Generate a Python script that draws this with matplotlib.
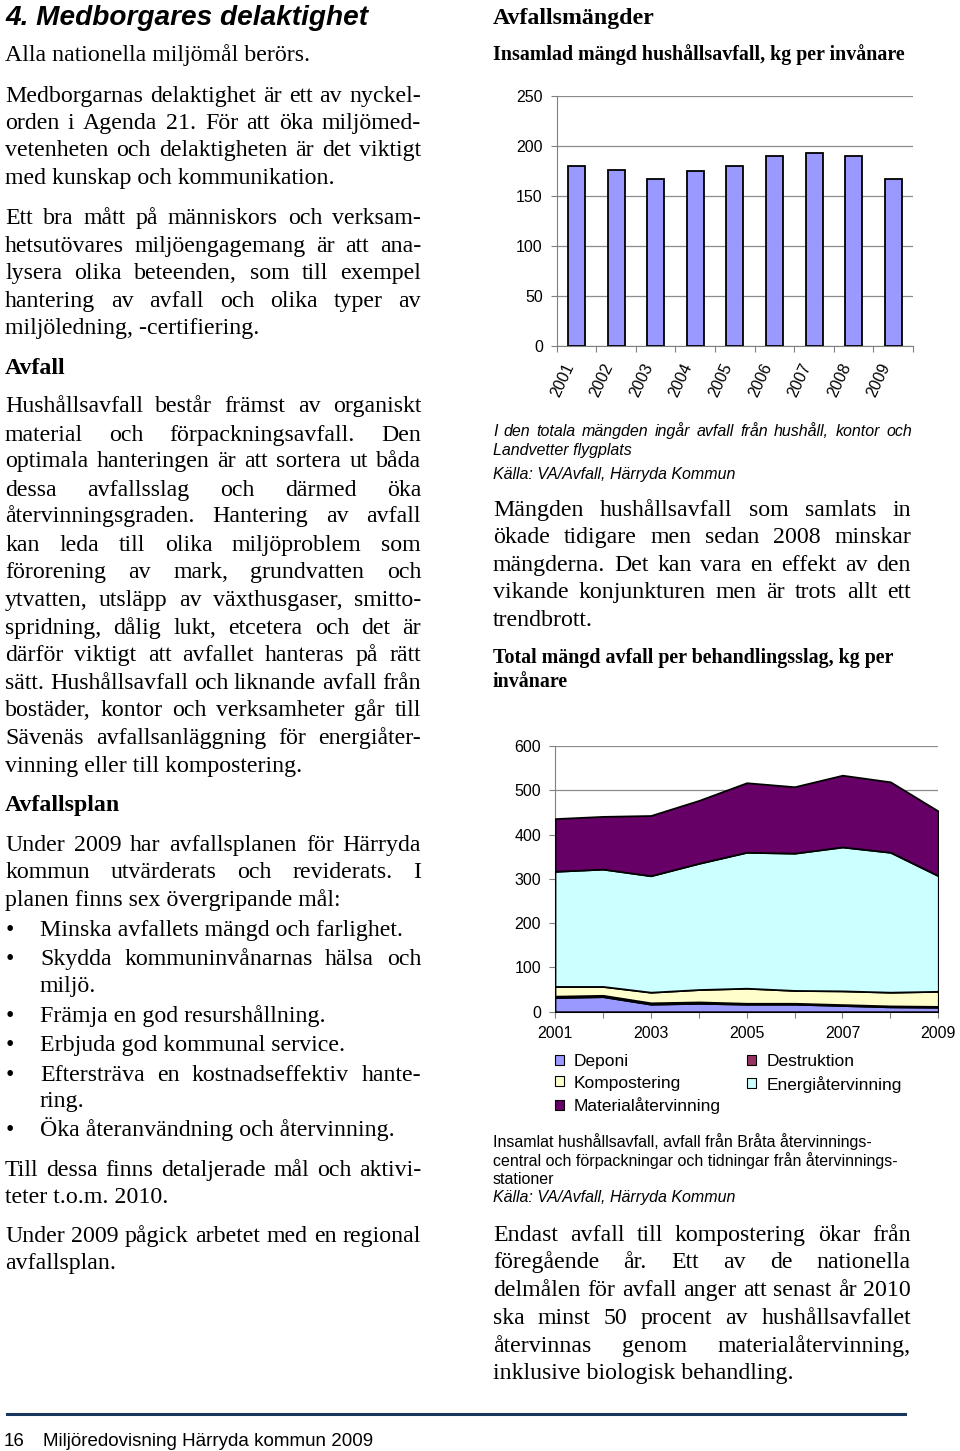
import matplotlib
matplotlib.use('Agg')
import matplotlib.pyplot as plt
from matplotlib.patches import Patch

# Data
years = [2001, 2002, 2003, 2004, 2005, 2006, 2007, 2008, 2009]
year_labels = [str(y) for y in years]
household_kg = [180, 176, 167, 175, 180, 190, 193, 190, 167]

deponi = [32, 34, 17, 19, 17, 17, 14, 11, 10]
destruktion = [3, 3, 3, 3, 2, 2, 2, 2, 2]
kompostering = [22, 20, 24, 28, 34, 29, 31, 31, 34]
energi = [260, 265, 263, 285, 307, 310, 325, 316, 261]
material = [119, 119, 136, 142, 157, 150, 162, 159, 146]

stack_names = ['Deponi', 'Destruktion', 'Kompostering', 'Energiåtervinning', 'Materialåtervinning']
stack_colors = ['#9999FF', '#993366', '#FFFFCC', '#CCFFFF', '#660066']

bar_yticks = [0, 50, 100, 150, 200, 250]
area_yticks = [0, 100, 200, 300, 400, 500, 600]
area_xticks = [2001, 2003, 2005, 2007, 2009]

SERIF = ['Liberation Serif', 'DejaVu Serif']
SANS = ['Liberation Sans', 'DejaVu Sans']

W, H = 960, 1451
fig = plt.figure(figsize=(W / 100, H / 100), dpi=100)
renderer = fig.canvas.get_renderer()


def fx(px):
    return px / W


def fy(py):
    return 1 - py / H


def put_line(x0, y, s, x1=None, size=17.2, family=SERIF, **kw):
    # y is the middle of the x-height, shift down to baseline
    yb = y + 0.24 * size * 100 / 72
    if x1 is None or ' ' not in s:
        fig.text(fx(x0), fy(yb), s, va='baseline', ha='left',
                 fontsize=size, family=family, **kw)
        return
    # justified line: spread the words over x0..x1
    words = s.split(' ')
    objs = [fig.text(0, fy(yb), w, va='baseline', ha='left',
                     fontsize=size, family=family, **kw) for w in words]
    widths = [o.get_window_extent(renderer).width for o in objs]
    gap = (x1 - x0 - sum(widths)) / (len(words) - 1)
    x = x0
    for o, w in zip(objs, widths):
        o.set_x(fx(x))
        x += w + gap


# ---- left column ----
LX0, LX1 = 5, 421
fig.text(fx(5), fy(15 + 0.36 * 20.2 * 100 / 72), '4. Medborgares delaktighet',
         fontsize=20.2, family=SANS, weight='bold', style='italic', va='baseline')

left_lines = [
    ("Alla nationella miljömål berörs.", 55, False),
    ("Medborgarnas delaktighet är ett av nyckel-", 96.7, True),
    ("orden i Agenda 21. För att öka miljömed-", 123.3, True),
    ("vetenheten och delaktigheten är det viktigt", 150.7, True),
    ("med kunskap och kommunikation.", 178.3, False),
    ("Ett bra mått på människors och verksam-", 218.3, True),
    ("hetsutövares miljöengagemang är att ana-", 246, True),
    ("lysera olika beteenden, som till exempel", 273.3, True),
    ("hantering av avfall och olika typer av", 301, True),
    ("miljöledning, -certifiering.", 328.3, False),
    ("Hushållsavfall består främst av organiskt", 406.7, True),
    ("material och förpackningsavfall. Den", 435, True),
    ("optimala hanteringen är att sortera ut båda", 461.7, True),
    ("dessa avfallsslag och därmed öka", 490, True),
    ("återvinningsgraden. Hantering av avfall", 516.7, True),
    ("kan leda till olika miljöproblem som", 545, True),
    ("förorening av mark, grundvatten och", 572.7, True),
    ("ytvatten, utsläpp av växthusgaser, smitto-", 600, True),
    ("spridning, dålig lukt, etcetera och det är", 628.3, True),
    ("därför viktigt att avfallet hanteras på rätt", 655, True),
    ("sätt. Hushållsavfall och liknande avfall från", 683.3, True),
    ("bostäder, kontor och verksamheter går till", 710, True),
    ("Sävenäs avfallsanläggning för energiåter-", 738.3, True),
    ("vinning eller till kompostering.", 766, False),
    ("Under 2009 har avfallsplanen för Härryda", 845, True),
    ("kommun utvärderats och reviderats. I", 872.7, True),
    ("planen finns sex övergripande mål:", 900, False),
    ("Till dessa finns detaljerade mål och aktivi-", 1170, True),
    ("teter t.o.m. 2010.", 1197.3, False),
    ("Under 2009 pågick arbetet med en regional", 1236.7, True),
    ("avfallsplan.", 1263.3, False),
]
for s, y, just in left_lines:
    put_line(LX0, y, s, LX1 if just else None)

put_line(LX0, 368.3, "Avfall", weight='bold')
put_line(LX0, 805, "Avfallsplan", weight='bold')

bullet_lines = [
    ("Minska avfallets mängd och farlighet.", 930, False, True),
    ("Skydda kommuninvånarnas hälsa och", 959.3, True, True),
    ("miljö.", 986.7, False, False),
    ("Främja en god resurshållning.", 1016, False, True),
    ("Erbjuda god kommunal service.", 1045, False, True),
    ("Eftersträva en kostnadseffektiv hante-", 1075, True, True),
    ("ring.", 1101.7, False, False),
    ("Öka återanvändning och återvinning.", 1130.7, False, True),
]
for s, y, just, bul in bullet_lines:
    if bul:
        put_line(6, y, "\u2022")
    put_line(40, y, s, LX1 if just else None)

# ---- right column ----
RX0, RX1 = 493, 911
put_line(RX0, 18.3, "Avfallsmängder", weight='bold')
put_line(RX0, 55, "Insamlad mängd hushållsavfall, kg per invånare", size=14.4, weight='bold')

put_line(RX0, 432.3, "I den totala mängden ingår avfall från hushåll, kontor och", 912,
         size=11.5, family=SANS, style='italic')
put_line(RX0, 450.7, "Landvetter flygplats", size=11.5, family=SANS, style='italic')
put_line(RX0, 475, "Källa: VA/Avfall, Härryda Kommun", size=11.5, family=SANS, style='italic')

right_lines = [
    ("Mängden hushållsavfall som samlats in", 510, True),
    ("ökade tidigare men sedan 2008 minskar", 537.3, True),
    ("mängderna. Det kan vara en effekt av den", 565, True),
    ("vikande konjunkturen men är trots allt ett", 592.7, True),
    ("trendbrott.", 620, False),
    ("Endast avfall till kompostering ökar från", 1235, True),
    ("föregående år. Ett av de nationella", 1262.7, True),
    ("delmålen för avfall anger att senast år 2010", 1290, True),
    ("ska minst 50 procent av hushållsavfallet", 1318.3, True),
    ("återvinnas genom materialåtervinning,", 1346, True),
    ("inklusive biologisk behandling.", 1373.3, False),
]
for s, y, just in right_lines:
    put_line(RX0, y, s, RX1 if just else None)

put_line(RX0, 658.3, "Total mängd avfall per behandlingsslag, kg per", size=14.4, weight='bold')
put_line(RX0, 681.7, "invånare", size=14.4, weight='bold')

put_line(RX0, 1143.3, "Insamlat hushållsavfall, avfall från Bråta återvinnings-", size=11.5, family=SANS)
put_line(RX0, 1161.7, "central och förpackningar och tidningar från återvinnings-", size=11.5, family=SANS)
put_line(RX0, 1180, "stationer", size=11.5, family=SANS)
put_line(RX0, 1198.3, "Källa: VA/Avfall, Härryda Kommun", size=11.5, family=SANS, style='italic')

# ---- bar chart ----
ax1 = fig.add_axes([fx(556.7), fy(345.7), (913 - 556.7) / W, 249.7 / H])
xpos = list(range(len(years)))
ax1.bar(xpos, household_kg, width=0.43, color='#9999FF', edgecolor='black', linewidth=1.3, zorder=3)
ax1.set_xlim(-0.5, len(years) - 0.5)
ax1.set_ylim(0, 250)
ax1.set_yticks(bar_yticks)
ax1.set_yticklabels([str(v) for v in bar_yticks], family=SANS, fontsize=11.5)
ax1.set_xticks([i - 0.5 for i in range(len(years) + 1)], minor=False)
ax1.set_xticklabels([])
ax1.set_xticks(xpos, minor=True)
ax1.set_xticklabels(year_labels, minor=True, rotation=65, ha='right', family=SANS, fontsize=11.5)
ax1.tick_params(axis='x', which='minor', length=0, pad=11)
ax1.tick_params(axis='x', which='major', length=4, color='#808080', direction='out')
ax1.tick_params(axis='y', length=4, color='#808080', pad=6)
ax1.grid(axis='y', color='#8c8c8c', linewidth=0.9, zorder=0)
for sp in ['top', 'right']:
    ax1.spines[sp].set_visible(False)
ax1.spines['left'].set_color('#808080')
ax1.spines['bottom'].set_color('#808080')

# ---- stacked area chart ----
ax2 = fig.add_axes([fx(555), fy(1011.7), (938.3 - 555) / W, 265.7 / H])
ax2.stackplot(years, deponi, destruktion, kompostering, energi, material,
              colors=stack_colors, labels=stack_names, edgecolor='black', linewidth=1.3, zorder=3)
ax2.set_xlim(2001, 2009)
ax2.set_ylim(0, 600)
ax2.set_yticks(area_yticks)
ax2.set_yticklabels([str(v) for v in area_yticks], family=SANS, fontsize=11.5)
ax2.set_xticks(years)
ax2.set_xticklabels([str(y) if y in area_xticks else '' for y in years], family=SANS, fontsize=11.5)
ax2.tick_params(axis='x', length=4, color='#808080', pad=6)
ax2.tick_params(axis='y', length=4, color='#808080', pad=6)
ax2.grid(axis='y', color='#8c8c8c', linewidth=0.9, zorder=0)
for sp in ['top', 'right']:
    ax2.spines[sp].set_visible(False)
ax2.spines['left'].set_color('#808080')
ax2.spines['bottom'].set_color('#808080')

handles = [Patch(facecolor=c, edgecolor='black', linewidth=0.8, label=n)
           for n, c in zip(stack_names, stack_colors)]
order = [0, 2, 4, 1, 3]
fig.legend([handles[i] for i in order], [stack_names[i] for i in order],
           loc='upper left', bbox_to_anchor=(fx(555), fy(1054)), ncol=2, frameon=False,
           prop={'family': SANS, 'size': 12.5}, handlelength=0.5, handleheight=0.5,
           handletextpad=0.6, labelspacing=0.38, columnspacing=1.5, borderaxespad=0,
           borderpad=0)

# ---- footer ----
fig.add_artist(plt.Line2D([fx(7), fx(905)], [fy(1414), fy(1414)], color='#17375E', linewidth=2.2))
fig.text(fx(4), fy(1446.5), '16', family=SANS, fontsize=13.5, va='baseline')
fig.text(fx(43), fy(1446.5), 'Miljöredovisning Härryda kommun 2009', family=SANS,
         fontsize=13.5, va='baseline')

fig.savefig('out.png', dpi=100)
